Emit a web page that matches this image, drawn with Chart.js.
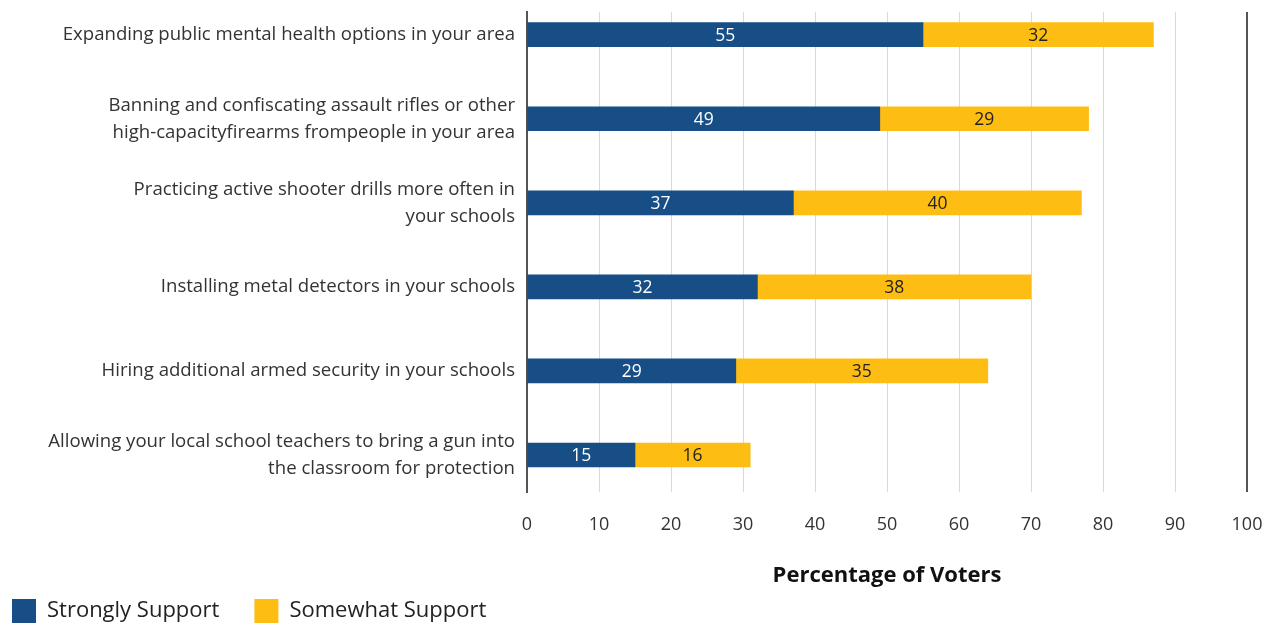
<!DOCTYPE html>
<html>
<head>
<meta charset="utf-8">
<script src="https://cdn.jsdelivr.net/npm/chart.js@4.4.1/dist/chart.umd.min.js"></script>
<style>
  html, body { margin: 0; padding: 0; background: #fff; }
  #wrap { position: relative; width: 1273px; height: 625px; }
</style>
</head>
<body>
<div id="wrap"><canvas id="supportChart"></canvas></div>
<script>
const categories = [
  ["Expanding public mental health options in your area"],
  ["Banning and confiscating assault rifles or other", "high-capacityfirearms frompeople in your area"],
  ["Practicing active shooter drills more often in", "your schools"],
  ["Installing metal detectors in your schools"],
  ["Hiring additional armed security in your schools"],
  ["Allowing your local school teachers to bring a gun into", "the classroom for protection"],
];
const strongly = [55, 49, 37, 32, 29, 15];
const somewhat = [32, 29, 40, 38, 35, 16];
const xTicks = [0, 10, 20, 30, 40, 50, 60, 70, 80, 90, 100];

const FONT = "'Open Sans', sans-serif";
const BLUE = "#174e85";
const GOLD = "#fdbd12";

// numbers written inside each bar segment
const segmentLabels = {
  id: "segmentLabels",
  afterDatasetsDraw(chart) {
    const ctx = chart.ctx;
    ctx.save();
    ctx.font = `17.5px ${FONT}`;
    ctx.textAlign = "center";
    ctx.textBaseline = "middle";
    chart.data.datasets.forEach((ds, di) => {
      const meta = chart.getDatasetMeta(di);
      meta.data.forEach((bar, i) => {
        const cx = (bar.x + bar.base) / 2;
        ctx.fillStyle = di === 0 ? "#ffffff" : "#222222";
        ctx.fillText(ds.data[i].x, cx, bar.y + 1);
      });
    });
    ctx.restore();
  },
};

// legend row along the bottom left
const bottomLegend = {
  id: "bottomLegend",
  afterDraw(chart) {
    const ctx = chart.ctx;
    ctx.save();
    ctx.font = `22px ${FONT}`;
    ctx.textBaseline = "middle";
    let x = 12;
    const y = 599;
    chart.data.datasets.forEach((ds) => {
      ctx.fillStyle = ds.backgroundColor;
      ctx.fillRect(x, y, 24, 24);
      ctx.fillStyle = "#222222";
      ctx.fillText(ds.label, x + 35, y + 12);
      x += 35 + ctx.measureText(ds.label).width + 35;
    });
    ctx.restore();
  },
};

new Chart(document.getElementById("supportChart"), {
  type: "bar",
  data: {
    datasets: [
      {
        label: "Strongly Support",
        data: strongly.map((v, i) => ({ x: v, y: i })),
        backgroundColor: BLUE,
        barThickness: 24,
      },
      {
        label: "Somewhat Support",
        data: somewhat.map((v, i) => ({ x: v, y: i })),
        backgroundColor: GOLD,
        barThickness: 24,
      },
    ],
  },
  options: {
    indexAxis: "y",
    responsive: true,
    maintainAspectRatio: false,
    animation: false,
    layout: { padding: { top: 12, right: 26, bottom: 36, left: 0 } },
    scales: {
      x: {
        type: "linear",
        stacked: true,
        min: 0,
        max: 100,
        afterBuildTicks: (s) => { s.ticks = xTicks.map((v) => ({ value: v })); },
        afterFit: (s) => { s.height = 97; s.paddingLeft = 0; s.paddingRight = 0; },
        grid: {
          drawTicks: false,
          color: (c) => (c.tick && (c.tick.value === 100 || c.tick.value === 0) ? "#555555" : "#d9d9d9"),
          lineWidth: (c) => (c.tick && c.tick.value === 100 ? 2 : 1),
        },
        border: { display: false },
        ticks: {
          padding: 22,
          color: "#333333",
          font: { family: FONT, size: 18 },
        },
        title: {
          display: true,
          text: "Percentage of Voters",
          color: "#111111",
          font: { family: FONT, size: 22, weight: "bold" },
          padding: { top: 0, bottom: 0 },
        },
      },
      y: {
        type: "linear",
        stacked: true,
        reverse: true,
        offset: false,
        min: -0.27,
        max: 5.44,
        afterBuildTicks: (s) => { s.ticks = categories.map((_, i) => ({ value: i })); },
        afterFit: (s) => { s.width = 527; s.paddingTop = 0; s.paddingBottom = 0; },
        grid: { display: false, drawTicks: false },
        border: { display: true, color: "#555555", width: 2 },
        ticks: {
          padding: 12,
          color: "#333333",
          font: { family: FONT, size: 18.6, lineHeight: 1.45 },
          callback: (v) => categories[v],
        },
      },
    },
    plugins: {
      legend: { display: false },
      tooltip: { enabled: false },
    },
  },
  plugins: [segmentLabels, bottomLegend],
});
</script>
</body>
</html>
